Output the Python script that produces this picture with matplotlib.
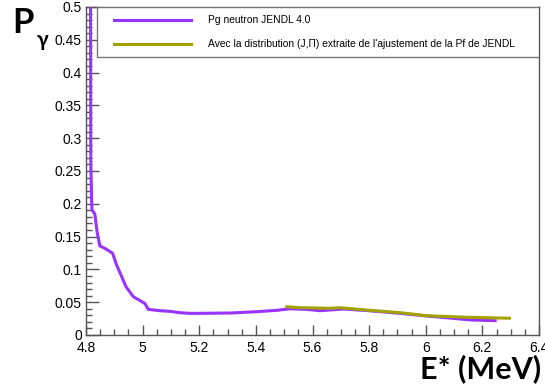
import numpy as np
import matplotlib.pyplot as plt
from matplotlib.ticker import MultipleLocator, FixedFormatter, FixedLocator
from matplotlib.patches import Rectangle

# Pg neutron JENDL 4.0 (purple)
e_jendl = [4.816, 4.817, 4.820, 4.821, 4.831, 4.840, 4.849, 4.867, 4.894, 4.908,
           4.926, 4.941, 4.967, 5.008, 5.020, 5.061, 5.097, 5.130, 5.167, 5.200,
           5.309, 5.403, 5.474, 5.520, 5.580, 5.627, 5.709, 5.800, 5.909, 6.003,
           6.080, 6.160, 6.245]
p_jendl = [0.52, 0.26, 0.20, 0.1905, 0.1845, 0.155, 0.1357, 0.132, 0.1245, 0.1067,
           0.089, 0.0737, 0.0584, 0.048, 0.039, 0.037, 0.036, 0.034, 0.033, 0.033,
           0.0335, 0.0355, 0.0376, 0.040, 0.039, 0.037, 0.0396, 0.037, 0.033, 0.029,
           0.026, 0.0229, 0.0218]

# distribution (J,Pi) from the Pf fit (olive)
e_fit = [5.509, 5.556, 5.662, 5.697, 5.791, 5.909, 6.003, 6.145, 6.295]
p_fit = [0.043, 0.0416, 0.0407, 0.0416, 0.038, 0.034, 0.0294, 0.027, 0.0255]

x_ticks = [4.8, 5.0, 5.2, 5.4, 5.6, 5.8, 6.0, 6.2, 6.4]
x_labels = ['4.8', '5', '5.2', '5.4', '5.6', '5.8', '6', '6.2', '6.4']
y_ticks = [0, 0.05, 0.1, 0.15, 0.2, 0.25, 0.3, 0.35, 0.4, 0.45, 0.5]
y_labels = ['0', '0.05', '0.1', '0.15', '0.2', '0.25', '0.3', '0.35', '0.4', '0.45', '0.5']

purple = '#9933ff'
olive = '#a3a300'
axcol = '#555555'

plt.rcParams['font.family'] = ['Liberation Sans', 'DejaVu Sans']

fig = plt.figure(figsize=(5.45, 3.87), dpi=100)
ax = fig.add_axes([0.1578, 0.1344, 0.8312, 0.8476])

ax.plot(e_jendl, p_jendl, color=purple, lw=2.2, label='Pg neutron JENDL 4.0', zorder=3)
ax.plot(e_fit, p_fit, color=olive, lw=2.2,
        label="Avec la distribution (J,\u03a0) extraite de l'ajustement de la Pf de JENDL", zorder=4)

ax.set_xlim(4.8, 6.4)
ax.set_ylim(0, 0.5)

ax.xaxis.set_major_locator(FixedLocator(x_ticks))
ax.xaxis.set_major_formatter(FixedFormatter(x_labels))
ax.xaxis.set_minor_locator(MultipleLocator(0.05))
ax.yaxis.set_major_locator(FixedLocator(y_ticks))
ax.yaxis.set_major_formatter(FixedFormatter(y_labels))
ax.yaxis.set_minor_locator(MultipleLocator(0.01))

ax.tick_params(axis='both', which='both', direction='in', colors=axcol,
               labelcolor='black', labelsize=10, width=1)
ax.tick_params(axis='y', which='major', length=9.5, pad=3)
ax.tick_params(axis='y', which='minor', length=4.5)
ax.tick_params(axis='x', which='major', length=7.5, pad=4)
ax.tick_params(axis='x', which='minor', length=4)

for s in ax.spines.values():
    s.set_color(axcol)
    s.set_linewidth(1)

# legend box drawn separately so the entries can sit where they do in the original
box = Rectangle((0.024, 0.848), 0.976, 0.152, transform=ax.transAxes,
                facecolor='white', edgecolor='#777777', lw=1, zorder=5)
ax.add_patch(box)
leg = ax.legend(loc='upper left', bbox_to_anchor=(0.0618, 0.974),
                borderaxespad=0, borderpad=0, fontsize=7.4, handlelength=7.5,
                handletextpad=1.6, labelspacing=1.35, frameon=False)
leg.set_zorder(6)

fig.text(0.022, 0.915, 'P', fontsize=25, fontweight='bold', family='Lato')
fig.text(0.067, 0.88, '\u03b3', fontsize=15, fontweight='bold', family=['Lato', 'DejaVu Sans'])
fig.text(0.992, 0.023, 'E* (MeV)', fontsize=22, fontweight='bold', family='Lato', ha='right')

fig.savefig('out.png', dpi=100)
